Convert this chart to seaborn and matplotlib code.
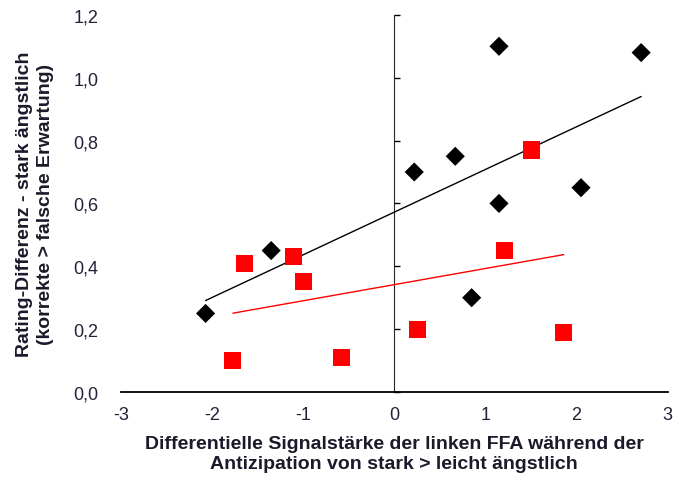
import numpy as np
import pandas as pd
import matplotlib
matplotlib.use("Agg")
import matplotlib.pyplot as plt
import seaborn as sns

# black diamonds
black_x = [-2.07, -1.35, 0.22, 0.67, 1.15, 1.15, 0.85, 2.05, 2.71]
black_y = [0.25, 0.45, 0.70, 0.75, 1.10, 0.60, 0.30, 0.65, 1.08]

# red squares
red_x = [-1.77, -1.64, -1.11, -0.99, -0.58, 0.26, 1.21, 1.51, 1.86]
red_y = [0.10, 0.41, 0.43, 0.35, 0.11, 0.20, 0.45, 0.77, 0.19]

x_ticks = [-3, -2, -1, 0, 1, 2, 3]
y_ticks = [0.0, 0.2, 0.4, 0.6, 0.8, 1.0, 1.2]

black = pd.DataFrame({"x": black_x, "y": black_y})
red = pd.DataFrame({"x": red_x, "y": red_y})

sns.set_style("white")
plt.rcParams["font.family"] = ["Liberation Sans", "DejaVu Sans"]

fig = plt.figure(figsize=(6.75, 4.81), dpi=100)
ax = fig.add_axes([0.179, 0.183, 0.81, 0.784])

sns.regplot(data=black, x="x", y="y", scatter=False, ci=None, color="black",
            line_kws={"lw": 1}, ax=ax)
sns.regplot(data=red, x="x", y="y", scatter=False, ci=None, color="#ff0000",
            line_kws={"lw": 1}, ax=ax)
sns.scatterplot(data=black, x="x", y="y", marker="D", s=95, color="black",
                edgecolor="none", ax=ax, zorder=3)
sns.scatterplot(data=red, x="x", y="y", marker="s", s=150, color="#ff0000",
                edgecolor="none", ax=ax, zorder=3)

ax.set_xlim(-3, 3)
ax.set_ylim(0, 1.2)

for side in ["top", "right", "left"]:
    ax.spines[side].set_visible(False)
ax.spines["bottom"].set_color("black")
ax.spines["bottom"].set_linewidth(1.3)

tick_color = "#22223a"
ax.set_xticks(x_ticks)
ax.set_xticklabels([str(t) for t in x_ticks], fontsize=13, color=tick_color)
ax.tick_params(axis="x", direction="out", length=5, width=1.2, color="black", pad=5)

ax.set_yticks(y_ticks)
ax.set_yticklabels([f"{t:.1f}".replace(".", ",") for t in y_ticks], fontsize=13,
                   color=tick_color)
ax.tick_params(axis="y", length=0, pad=16)

# vertical axis at x = 0 with tick marks
sec = ax.secondary_yaxis(0.5)
sec.spines["left"].set_color("black")
sec.spines["left"].set_linewidth(1.3)
sec.set_yticks(y_ticks)
sec.set_yticklabels([])
sec.tick_params(axis="y", direction="out", length=4, width=1, color="black")

ax.set_xlabel("Differentielle Signalstärke der linken FFA während der\n"
              "Antizipation von stark > leicht ängstlich",
              fontsize=14, fontweight="bold", color="#1a1a2a", labelpad=9,
              linespacing=1.2)
ax.set_ylabel("Rating-Differenz - stark ängstlich\n(korrekte > falsche Erwartung)",
              fontsize=14, fontweight="bold", color="#1a1a2a", labelpad=14,
              linespacing=1.3)

fig.savefig("out.png", dpi=100)
